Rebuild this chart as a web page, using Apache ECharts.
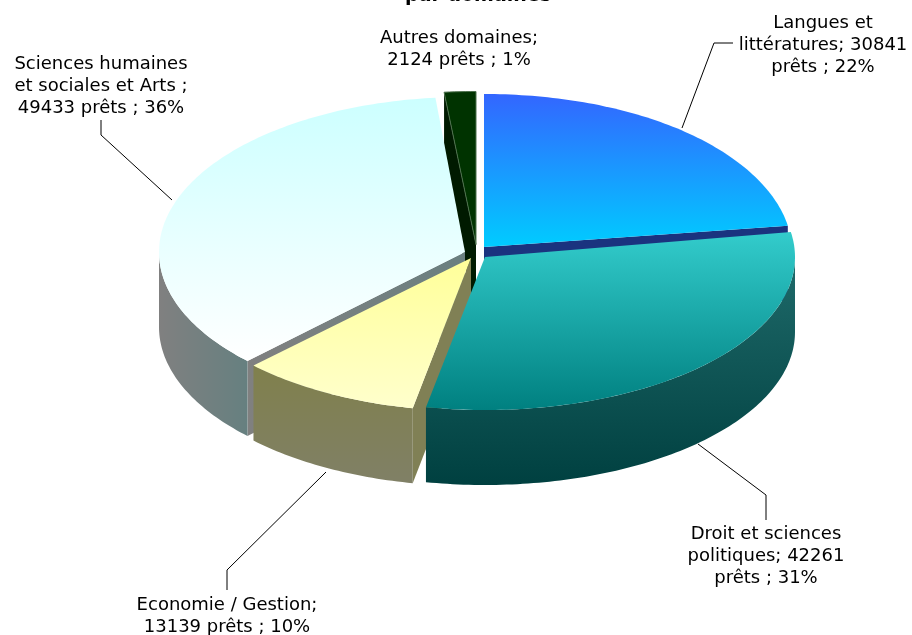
<!DOCTYPE html>
<html><head><meta charset="utf-8">
<style>html,body{margin:0;padding:0;background:#fff}#c{width:912px;height:635px}</style>
<script src="https://cdn.jsdelivr.net/npm/echarts@6/dist/echarts.min.js"></script>
</head><body><div id="c"></div>
<script>
const categories = ["Langues et littératures","Droit et sciences politiques","Economie / Gestion","Sciences humaines et sociales et Arts","Autres domaines"];
const values = [30841,42261,13139,49433,2124];
const labelLines = [
  ["Langues et","littératures; 30841","prêts ; 22%"],
  ["Droit et sciences","politiques; 42261","prêts ; 31%"],
  ["Economie / Gestion;","13139 prêts ; 10%"],
  ["Sciences humaines","et sociales et Arts ;","49433 prêts ; 36%"],
  ["Autres domaines;","2124 prêts ; 1%"]
];
const titleText = "par domaines";

// layout and style, separate from the data
const DEPTH = 75;
const apex = [[484,247],[485,257],[471,258],[465,252],[476,244.5]];
const radX = [308,310,306,306,330];
const radY = [153,153,153,155,153];
const rimTilt = [4,0,0,0,0];
const drawOrder = [1,4,3,2,0];
const labelCentre = [[823,45],[766,556],[227,616],[101,86],[459,49]];
const leaders = [
  [[682,128],[714,43],[733,43]],
  [[698,444],[766,495],[766,520]],
  [[326,472],[227,570],[227,590]],
  [[172,200],[101,135],[101,120]],
  []
];
const topFill = [["#3366ff","#00ccff"],["#33cccc","#008080"],["#ffff99","#ffffcc"],["#ccffff","#ffffff"],["#003300","#003300"]];
const wallFill = [["#1a337f","#1a337f"],["#1f6a6a","#004040"],["#80804c","#808066"],["#808080","#668080"],["#001a00","#001a00"]];
const faceFill = [["#1a337f","#1a337f"],["#1a6666","#1a6666"],["#808055","#808055"],["#808080","#6a8080"],["#001a00","#001a00"]];
const faceEdge = [1,null,0,0,0]; // which cut edge faces the viewer: 0 = start, 1 = end
const wallHorizontal = [false,false,false,true,false];
const topStroke = [null,null,null,null,"#4d704d"];

const total = values.reduce((a,b)=>a+b,0);
function grad(c, horizontal){
  return new echarts.graphic.LinearGradient(0,0,horizontal?1:0,horizontal?0:1,[{offset:0,color:c[0]},{offset:1,color:c[1]}]);
}
function rim(i, deg, dy){
  const t = deg*Math.PI/180;
  const s = Math.sin(t);
  return [apex[i][0]+radX[i]*s, apex[i][1]-radY[i]*Math.cos(t)+(dy||0)+rimTilt[i]*s*s*s*s];
}
function arc(i, a0, a1, dy){
  const pts=[]; const n=Math.max(2,Math.ceil(Math.abs(a1-a0)));
  for(let k=0;k<=n;k++) pts.push(rim(i,a0+(a1-a0)*k/n,dy));
  return pts;
}
// each slice starts where the previous one ends
const starts=[]; values.reduce((acc,v,i)=>{starts[i]=acc;return acc+v/total*360;},0);

function renderItem(params, api){
  const i = params.dataIndex;
  const v = api.value(0);
  const a0 = starts[i], a1 = a0 + v/total*360;
  const z = drawOrder[i]*10;
  const children = [];
  const A = apex[i];
  if(faceEdge[i]!==null){
    const p=rim(i,faceEdge[i]?a1:a0);
    children.push({type:'polygon',z2:z,silent:true,
      shape:{points:[A,p,[p[0],p[1]+DEPTH],[A[0],A[1]+DEPTH]]},
      style:{fill:grad(faceFill[i],true)}});
  }
  // outer wall, only the front half of the rim shows
  const w0=Math.max(a0,90), w1=Math.min(a1,270);
  if(w1>w0){
    const top=arc(i,w0,w1,0), bot=arc(i,w1,w0,DEPTH);
    children.push({type:'polygon',z2:z+1,silent:true,
      shape:{points:top.concat(bot)},
      style:{fill:grad(wallFill[i],wallHorizontal[i])}});
  }
  // top face
  const st={fill:grad(topFill[i],false)};
  if(topStroke[i]){st.stroke=topStroke[i];st.lineWidth=1;}
  children.push({type:'polygon',z2:z+2,silent:true,
    shape:{points:[A].concat(arc(i,a0,a1,0))},style:st});
  return {type:'group',children};
}

const FONT = 'Verdana, "DejaVu Sans", sans-serif';
const graphicEls = [];
leaders.forEach(pts=>{ if(pts.length) graphicEls.push({type:'polyline',z:5,silent:true,shape:{points:pts},style:{stroke:'#000',lineWidth:1,fill:null}}); });
labelLines.forEach((lines,i)=>{
  graphicEls.push({type:'text',z:6,silent:true,x:labelCentre[i][0],y:labelCentre[i][1],
    style:{text:lines.join('\n'),font:'18px '+FONT,lineHeight:22,fill:'#000',align:'center',verticalAlign:'middle'}});
});
graphicEls.push({type:'text',z:6,silent:true,x:478,y:-4,
  style:{text:titleText,font:'bold 19px '+FONT,fill:'#000',align:'center',verticalAlign:'middle'}});

const chart = echarts.init(document.getElementById('c'),null,{renderer:'canvas'});
chart.setOption({
  animation:false,
  backgroundColor:'#fff',
  series:[{type:'custom',coordinateSystem:'none',renderItem,clip:false,silent:true,
    data:values.map((v,i)=>({name:categories[i],value:[v]}))}],
  graphic:{elements:graphicEls}
});
</script></body></html>
